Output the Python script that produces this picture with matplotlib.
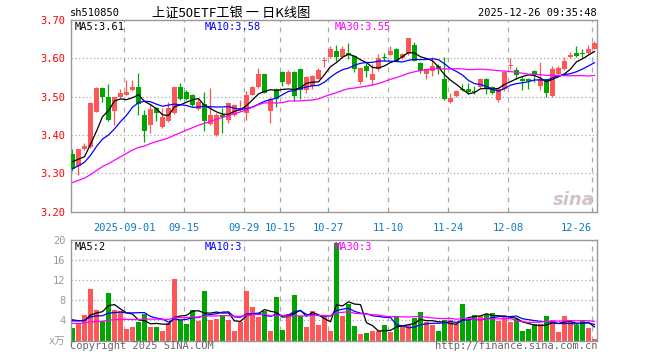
import matplotlib
matplotlib.use('Agg')
import matplotlib.pyplot as plt
import numpy as np
import pandas as pd

# daily candles, 2025-08-19 .. 2025-12-26
opens = [3.351, 3.318, 3.363, 3.368, 3.461, 3.522, 3.500, 3.462, 3.498, 3.505,
         3.517, 3.525, 3.453, 3.426, 3.471, 3.421, 3.435, 3.457, 3.525, 3.512,
         3.504, 3.467, 3.480, 3.428, 3.400, 3.452, 3.440, 3.453, 3.465, 3.456,
         3.504, 3.524, 3.559, 3.462, 3.521, 3.565, 3.532, 3.565, 3.572, 3.518,
         3.528, 3.546, 3.592, 3.603, 3.620, 3.603, 3.615, 3.605, 3.537, 3.581,
         3.544, 3.572, 3.603, 3.609, 3.625, 3.600, 3.611, 3.635, 3.589, 3.559,
         3.568, 3.581, 3.547, 3.486, 3.502, 3.521, 3.519, 3.515, 3.524, 3.546,
         3.526, 3.491, 3.521, 3.579, 3.570, 3.547, 3.547, 3.568, 3.528, 3.546,
         3.502, 3.559, 3.572, 3.603, 3.614, 3.612, 3.614, 3.625]
highs = [3.364, 3.363, 3.379, 3.486, 3.525, 3.524, 3.533, 3.500, 3.519, 3.543,
         3.543, 3.561, 3.464, 3.480, 3.473, 3.471, 3.486, 3.525, 3.535, 3.516,
         3.506, 3.493, 3.512, 3.522, 3.458, 3.470, 3.483, 3.480, 3.490, 3.515,
         3.528, 3.574, 3.560, 3.500, 3.522, 3.566, 3.569, 3.567, 3.574, 3.554,
         3.556, 3.574, 3.603, 3.633, 3.635, 3.633, 3.640, 3.606, 3.575, 3.590,
         3.585, 3.611, 3.614, 3.633, 3.626, 3.614, 3.653, 3.642, 3.590, 3.572,
         3.603, 3.584, 3.603, 3.510, 3.518, 3.532, 3.535, 3.528, 3.548, 3.548,
         3.528, 3.525, 3.567, 3.600, 3.576, 3.553, 3.548, 3.569, 3.591, 3.547,
         3.580, 3.580, 3.603, 3.616, 3.633, 3.623, 3.635, 3.645]
lows = [3.307, 3.294, 3.360, 3.365, 3.460, 3.486, 3.436, 3.425, 3.496, 3.503,
        3.515, 3.453, 3.381, 3.404, 3.436, 3.419, 3.433, 3.455, 3.490, 3.490,
        3.476, 3.465, 3.410, 3.426, 3.398, 3.405, 3.432, 3.450, 3.462, 3.440,
        3.503, 3.522, 3.510, 3.432, 3.474, 3.528, 3.530, 3.489, 3.495, 3.510,
        3.519, 3.545, 3.577, 3.600, 3.594, 3.600, 3.598, 3.565, 3.532, 3.550,
        3.530, 3.568, 3.594, 3.608, 3.592, 3.598, 3.609, 3.592, 3.562, 3.546,
        3.555, 3.560, 3.490, 3.483, 3.500, 3.515, 3.508, 3.508, 3.522, 3.506,
        3.506, 3.486, 3.515, 3.572, 3.545, 3.517, 3.520, 3.538, 3.517, 3.500,
        3.500, 3.557, 3.570, 3.601, 3.603, 3.600, 3.612, 3.623]
closes = [3.311, 3.362, 3.372, 3.482, 3.522, 3.500, 3.440, 3.498, 3.510, 3.512,
          3.525, 3.480, 3.410, 3.468, 3.458, 3.447, 3.469, 3.525, 3.493, 3.493,
          3.478, 3.485, 3.436, 3.451, 3.451, 3.448, 3.482, 3.477, 3.471, 3.504,
          3.524, 3.559, 3.510, 3.493, 3.493, 3.539, 3.565, 3.502, 3.518, 3.550,
          3.553, 3.570, 3.595, 3.623, 3.603, 3.623, 3.608, 3.572, 3.574, 3.568,
          3.559, 3.600, 3.600, 3.618, 3.594, 3.611, 3.653, 3.594, 3.568, 3.572,
          3.581, 3.572, 3.493, 3.497, 3.515, 3.518, 3.512, 3.511, 3.546, 3.519,
          3.510, 3.521, 3.563, 3.582, 3.556, 3.541, 3.541, 3.556, 3.547, 3.510,
          3.572, 3.574, 3.594, 3.609, 3.605, 3.611, 3.623, 3.640]
# volume, 10k lots
volumes = [2.5, 3.4, 5.1, 10.3, 6.0, 3.9, 9.5, 6.0, 5.9, 2.3,
           2.6, 3.7, 5.3, 2.7, 2.7, 1.9, 3.5, 12.2, 4.1, 3.3,
           6.1, 3.9, 9.9, 4.1, 4.3, 5.1, 4.1, 1.9, 3.6, 9.9,
           6.7, 4.7, 5.9, 1.9, 8.7, 2.1, 5.3, 9.1, 4.9, 2.7,
           5.9, 3.1, 5.1, 1.9, 19.5, 4.8, 7.2, 2.9, 1.3, 1.5,
           1.9, 1.9, 3.1, 1.7, 4.9, 3.0, 3.0, 4.4, 5.7, 3.6,
           3.0, 1.9, 4.1, 4.1, 3.2, 7.3, 4.1, 5.1, 4.8, 5.3,
           5.5, 3.9, 4.8, 3.6, 4.3, 1.9, 2.3, 3.2, 3.2, 4.8,
           4.1, 1.6, 4.8, 3.6, 3.1, 4.1, 2.4, 0.3]

# earlier sessions (off-screen), only feed the moving averages
prev_close = [3.19, 3.20, 3.21, 3.20, 3.19, 3.21, 3.23, 3.24, 3.25, 3.26,
              3.28, 3.29, 3.28, 3.30, 3.31, 3.32, 3.31, 3.30, 3.29, 3.29,
              3.29, 3.28, 3.30, 3.29, 3.31, 3.33, 3.34, 3.32, 3.35]
prev_vol = [3.0, 2.8, 3.5, 4.0, 2.6, 3.2, 3.0, 2.5, 3.8, 3.3,
            2.9, 3.1, 3.6, 2.7, 3.4, 3.0, 2.8, 3.5, 3.2, 3.1,
            3.2, 4.1, 3.6, 3.9, 3.7, 4.2, 5.1, 4.6, 4.1]

tick_idx = [9, 19, 29, 35, 43, 53, 63, 73, 87]
tick_labels = ['2025-09-01', '09-15', '09-29', '10-15', '10-27',
               '11-10', '11-24', '12-08', '12-26']
price_ticks = [3.20, 3.30, 3.40, 3.50, 3.60, 3.70]
vol_ticks = [0, 4, 8, 12, 16, 20]
vol_tick_labels = ['x万', '4', '8', '12', '16', '20']

RED = '#ff5757'
GREEN = '#00a600'
GRID = '#aaaaaa'
BORDER = '#999999'
MONO = 'DejaVu Sans Mono'
CJK = ['Noto Sans CJK SC', 'DejaVu Sans']

n = len(closes)
x = np.arange(n)
o = np.array(opens); c = np.array(closes)
up = c >= o
colors = [RED if u else GREEN for u in up]

cs = pd.Series(prev_close + closes)
vs = pd.Series(prev_vol + volumes)
ma = {k: cs.rolling(k).mean().values[-n:] for k in (5, 10, 30)}
vma = {k: vs.rolling(k).mean().values[-n:] for k in (5, 10, 30)}
ma_colors = {5: 'black', 10: '#0000ff', 30: '#ff00ff'}

W, H = 660, 360
fig = plt.figure(figsize=(6.6, 3.6), dpi=100)
ax = fig.add_axes([71 / W, (H - 211.5) / H, 526 / W, 191.5 / H])
ax2 = fig.add_axes([71 / W, (H - 340.5) / H, 526 / W, 100.5 / H])
xlim = (-0.25, 87.42)

for a in (ax, ax2):
    a.set_xlim(*xlim)
    for s in a.spines.values():
        s.set_color(BORDER)
        s.set_linewidth(1)
    for t in tick_idx:
        a.axvline(t - 0.4, color=GRID, lw=0.9, ls=(0, (4, 4)), zorder=0)

# price panel
ax.set_ylim(3.2, 3.7)
for p in price_ticks[1:-1]:
    ax.axhline(p, color=GRID, lw=0.9, ls=(0, (1, 2)), zorder=0)
ax.vlines(x, lows, highs, colors=colors, lw=0.9, zorder=2)
body = np.maximum(np.abs(c - o), 0.0016)
ax.bar(x, body, bottom=np.minimum(o, c), width=0.83, color=colors, zorder=3)
for k in (5, 10, 30):
    ax.plot(x, ma[k], color=ma_colors[k], lw=0.9, zorder=4)
ax.set_yticks(price_ticks)
ax.set_yticklabels(['%.2f' % p for p in price_ticks], family=MONO, fontsize=7.5, color='red')
ax.tick_params(axis='y', length=0, pad=4)
ax.set_xticks([t - 0.4 for t in tick_idx])
ax.set_xticklabels(tick_labels, family=MONO, fontsize=7.5, color='#0a7bc8')
ax.tick_params(axis='x', direction='in', length=3, color=BORDER, pad=8)
ax.get_xticklabels()[-1].set_ha('right')
ax.text(0.955, 0.06, 'sina', transform=ax.transAxes, fontsize=13, style='italic',
        weight='bold', color='#d0c4c4', ha='center', va='center', zorder=1)

# volume panel
ax2.set_ylim(0, 20)
for v in vol_ticks[1:-1]:
    ax2.axhline(v, color=GRID, lw=0.9, ls=(0, (1, 2)), zorder=0)
ax2.bar(x, volumes, width=0.83, color=colors, zorder=2)
for k in (5, 10, 30):
    ax2.plot(x, vma[k], color=ma_colors[k], lw=0.9, zorder=4)
ax2.set_xticks([])
ax2.set_yticks(vol_ticks)
ax2.set_yticklabels(vol_tick_labels, family=[MONO, 'Noto Sans CJK SC'], fontsize=7.5, color='#999999')
ax2.tick_params(axis='y', length=0, pad=4)

# header texts
fig.text(70 / W, 1 - 13 / H, 'sh510850', family=MONO, fontsize=7.5, va='center')
fig.text(231 / W, 1 - 13 / H, '上证50ETF工银 一 日K线图', family=CJK, fontsize=9.5,
         ha='center', va='center')
fig.text(597 / W, 1 - 13 / H, '2025-12-26 09:35:48', family=MONO, fontsize=7.5,
         ha='right', va='center')

ma_x = [75, 205, 335]
ma_txt = ['MA5:3.61', 'MA10:3.58', 'MA30:3.55']
vma_txt = ['MA5:2', 'MA10:3', 'MA30:3']
for xp, t1, t2, k in zip(ma_x, ma_txt, vma_txt, (5, 10, 30)):
    fig.text(xp / W, 1 - 27 / H, t1, family=MONO, fontsize=7.5, color=ma_colors[k], va='center')
    fig.text(xp / W, 1 - 247 / H, t2, family=MONO, fontsize=7.5, color=ma_colors[k], va='center')

fig.text(70 / W, 1 - 346 / H, 'Copyright 2025 SINA.COM', family=MONO, fontsize=7.5,
         color='#666666', va='center')
fig.text(597 / W, 1 - 346 / H, 'http://finance.sina.com.cn', family=MONO, fontsize=7.5,
         color='#666666', ha='right', va='center')

fig.savefig('out.png', dpi=100, facecolor='white')
